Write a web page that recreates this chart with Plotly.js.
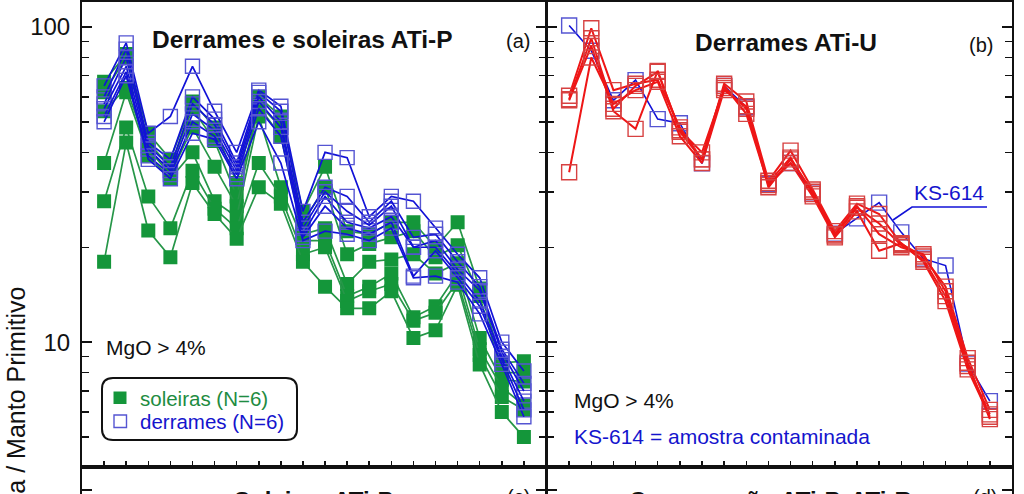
<!DOCTYPE html>
<html><head><meta charset="utf-8">
<script src="https://cdn.plot.ly/plotly-3.0.1.min.js"></script>
<style>html,body{margin:0;padding:0;background:#fff;}#chart{width:1024px;height:494px;}</style>
</head><body><div id="chart"></div>
<script>
// element positions along the spider diagram (labels are below the visible area)
const positions = [1,2,3,4,5,6,7,8,9,10,11,12,13,14,15,16,17,18,19,20];

// Panel (a) – ATi-P sills (soleiras), normalized to primitive mantle
const soleiras1 = [67,82,46,38,58,48,32,60,52,26,36,22.5,22,24,24,20,24,14.8,8.6,8.7];
const soleiras2 = [62,80,43,36,55,43.5,29,57,48,24,31,19,20.5,21.5,22.5,18.6,20.3,14,8,8];
const soleiras3 = [54,64,41,34,48,36,27,56,45,22,23,15.3,18,18.3,19,16.5,17.8,10.3,7.6,7.5];
const soleiras4 = [37,62,39,33,40,28,25,52,31,21,21,14,15,16.5,12,13,16.5,9.5,7.2,6.3];
const soleiras5 = [28,48,29,23,35,26.5,23,37,29,19,20,13.5,14.5,15.3,11.7,12.4,15.6,9.1,6.7,6.1];
const soleiras6 = [18,43,22.6,18.6,32,25.5,21.3,31,27.5,18,15,12.8,12.8,14.5,10.3,10.9,15.2,8.5,6.0,5.0];

// Panel (a) – ATi-P flows (derrames)
const derrames1 = [65,89,46,52,75,54,40,63,56,26,40,38.5,25,29,28,23,19,16,10,8.1];
const derrames2 = [60,85,43,38,60,51,37,62,54,24,31,29,24,28,21.5,22,18,15,9.5,7.4];
const derrames3 = [57,80,42,36,57,49,36,60,50,23,30,26,23.5,27,20,21,17,14.6,9.3,7];
const derrames4 = [55,75,41,35,53,47,35,58,48,22,29,24,23,25,20,20,16.5,13.5,9,6.5];
const derrames5 = [52,72,39,34,50,45,34,55,45,21.5,27,23,22,24,16.2,19.5,16,13,8.8,6.1];
const derrames6 = [50,70,38,33,46,44,33,50,37,21,22.5,22,21,23,16,16.2,15.5,12.3,8.5,5.8];

// Panel (b) – ATi-U flows
const atiU1 = [60.5,99,63,66,68,48,38,66,58,32.5,40.5,30.5,22.5,27.5,25.5,20.5,18.7,15,8.9,6.1];
const atiU2 = [59,92,55,65,72,47,40,64,55,32,38.5,29.5,21.8,26.7,23.8,20.3,18.3,14,8.4,5.9];
const atiU3 = [58.5,87,54,47.5,72.5,46.5,38,65,53,31.5,37,29,21.5,26,19.5,20.6,18,13.5,8.2,5.8];
const atiU4 = [34.6,80,57,63,67,45,37,63,56,31,38,30,22,27,22,20,19,14.5,8.6,5.7];
const ks614 = [101,84,58.5,67.8,51,49.5,36.9,65,55.6,31.8,37,29.6,22.1,24.7,27.7,22.3,18.4,17.5,8.55,6.5];

const soleiras = [soleiras1,soleiras2,soleiras3,soleiras4,soleiras5,soleiras6];
const derrames = [derrames1,derrames2,derrames3,derrames4,derrames5,derrames6];
const atiU = [atiU1,atiU2,atiU3,atiU4];

const yMajor = [10,100];
const yMajorText = ['10','100'];
const yMinor = [5,6,7,8,9,20,30,40,50,60,70,80,90];

const GREEN_LINE = 'rgb(38,150,72)', GREEN_FILL = 'rgb(20,150,58)';
const BLUE_LINE = 'rgb(18,18,215)', BLUE_MARK = 'rgb(85,85,210)';
const RED_LINE = 'rgb(238,22,22)', RED_MARK = 'rgb(215,65,65)';
const FONT = 'Liberation Sans, Arial, Helvetica, sans-serif';

const traces = [];
soleiras.forEach(s => traces.push({x: positions, y: s, xaxis:'x', yaxis:'y', mode:'lines+markers',
  line:{color:GREEN_LINE, width:1.7}, marker:{symbol:'square', size:14, color:GREEN_FILL}, showlegend:false, hoverinfo:'y'}));
derrames.forEach(s => traces.push({x: positions, y: s, xaxis:'x', yaxis:'y', mode:'lines+markers',
  line:{color:BLUE_LINE, width:1.7}, marker:{symbol:'square-open', size:14, color:BLUE_MARK, line:{width:1.4}}, showlegend:false, hoverinfo:'y'}));
traces.push({x: positions, y: ks614, xaxis:'x2', yaxis:'y2', mode:'lines+markers',
  line:{color:BLUE_LINE, width:1.6}, marker:{symbol:'square-open', size:15, color:BLUE_MARK, line:{width:1.4}}, showlegend:false});
atiU.forEach(s => traces.push({x: positions, y: s, xaxis:'x2', yaxis:'y2', mode:'lines+markers',
  line:{color:RED_LINE, width:2}, marker:{symbol:'square-open', size:15, color:RED_MARK, line:{width:1.4}}, showlegend:false}));
traces.push({x:[], y:[], xaxis:'x3', yaxis:'y3', showlegend:false});
traces.push({x:[], y:[], xaxis:'x4', yaxis:'y4', showlegend:false});

const W = 1024, H = 494;
const px = v => v / W;
const py = v => 1 - v / H;

function yAx(showLabels, anchor) {
  return {
    type:'log', range:[0.605, 2.079], domain:[py(466.7), py(2)], anchor: anchor,
    tickmode:'array', tickvals: yMajor, ticktext: yMajorText, showticklabels: showLabels,
    ticks:'inside', ticklen:10, tickwidth:1.5, tickcolor:'#111', ticklabelstandoff: 5,
    tickfont:{size:24, color:'#111', family:FONT},
    minor:{tickmode:'array', tickvals:yMinor, ticks:'inside', ticklen:7, tickwidth:1.5, tickcolor:'#111', showgrid:false},
    showline:true, linewidth:2, linecolor:'#111', mirror:'ticks', showgrid:false, zeroline:false, fixedrange:true
  };
}
function xAx(d0, d1, anchor) {
  return {
    domain:[px(d0), px(d1)], range:[0,21], anchor: anchor, tickmode:'array', tickvals: positions,
    showticklabels:false, ticks:'inside', ticklen:6, tickwidth:1.5, tickcolor:'#111',
    showline:true, linewidth:2, linecolor:'#111', mirror:true, showgrid:false, zeroline:false, fixedrange:true
  };
}
function yBottom(showLabels, anchor) {
  return {
    type:'log', range:[1.987, 2.074], domain:[0, py(466.7)], anchor: anchor,
    tickmode:'array', tickvals:[100], ticktext:['100'], showticklabels: showLabels,
    ticks:'inside', ticklen:10, tickwidth:1.5, tickcolor:'#111', ticklabelstandoff: 5,
    tickfont:{size:24, color:'#111', family:FONT},
    showline:true, linewidth:2, linecolor:'#111', mirror:'ticks', showgrid:false, zeroline:false, fixedrange:true
  };
}
function xBottom(d0, d1, anchor) {
  return {
    domain:[px(d0), px(d1)], range:[0,21], anchor: anchor, side:'top', showticklabels:false, ticks:'',
    showline:true, linewidth:2, linecolor:'#111', mirror:false, showgrid:false, zeroline:false, fixedrange:true
  };
}

function rounded(x0, y0, x1, y1, r) {
  const X = v => px(v).toFixed(5), Y = v => py(v).toFixed(5);
  return `M${X(x0+r)},${Y(y0)} L${X(x1-r)},${Y(y0)} Q${X(x1)},${Y(y0)} ${X(x1)},${Y(y0+r)} ` +
         `L${X(x1)},${Y(y1-r)} Q${X(x1)},${Y(y1)} ${X(x1-r)},${Y(y1)} L${X(x0+r)},${Y(y1)} ` +
         `Q${X(x0)},${Y(y1)} ${X(x0)},${Y(y1-r)} L${X(x0)},${Y(y0+r)} Q${X(x0)},${Y(y0)} ${X(x0+r)},${Y(y0)} Z`;
}

const shapes = [
  {type:'path', xref:'paper', yref:'paper', path: rounded(102, 378, 297, 440, 11), line:{color:'#111', width:2}},
  {type:'rect', xref:'paper', yref:'paper', x0:px(113.5), x1:px(126.5), y0:py(404), y1:py(391.5), fillcolor:GREEN_FILL, line:{width:0}},
  {type:'rect', xref:'paper', yref:'paper', x0:px(114), x1:px(126.5), y0:py(427.5), y1:py(415), fillcolor:'rgba(0,0,0,0)', line:{color:BLUE_MARK, width:1.4}},
  {type:'path', xref:'paper', yref:'paper', path:`M${px(893)},${py(220)} L${px(912)},${py(207)} L${px(987)},${py(207)}`, line:{color:BLUE_LINE, width:1.6}}
];

function ann(text, x, y, opts) {
  return Object.assign({text, xref:'paper', yref:'paper', x:px(x), y:py(y), showarrow:false,
    xanchor:'left', yanchor:'middle', font:{family:FONT, size:21, color:'#111'}}, opts || {});
}

const annotations = [
  ann('<b>Derrames e soleiras ATi-P</b>', 302, 40, {xanchor:'center', font:{family:FONT, size:24.5, color:'#111'}}),
  ann('(a)', 518, 41, {xanchor:'center', font:{family:FONT, size:20, color:'#111'}}),
  ann('<b>Derrames ATi-U</b>', 786, 42, {xanchor:'center', font:{family:FONT, size:24.5, color:'#111'}}),
  ann('(b)', 981, 45, {xanchor:'center', font:{family:FONT, size:20, color:'#111'}}),
  ann('MgO &gt; 4%', 104, 347),
  ann('MgO &gt; 4%', 572, 400),
  ann('KS-614 = amostra contaminada', 572, 436, {font:{family:FONT, size:21, color:'rgb(20,20,205)'}}),
  ann('KS-614', 912, 193, {font:{family:FONT, size:21, color:'rgb(20,20,205)'}}),
  ann('soleiras (N=6)', 138, 398, {font:{family:FONT, size:20.5, color:'rgb(30,140,65)'}}),
  ann('derrames (N=6)', 138, 421, {font:{family:FONT, size:20.5, color:'rgb(20,20,205)'}}),
  ann('Rocha / Manto Primitivo', 16, 420, {xanchor:'center', textangle:-90, font:{family:FONT, size:25, color:'#111'}}),
  ann('<b>Soleiras ATi-P</b>', 232, 500, {font:{family:FONT, size:24, color:'#111'}}),
  ann('(c)', 505, 497, {font:{family:FONT, size:20, color:'#111'}}),
  ann('<b>Comparação ATi-P, ATi-R</b>', 627, 500, {font:{family:FONT, size:24, color:'#111'}}),
  ann('(d)', 971, 497, {font:{family:FONT, size:20, color:'#111'}})
];

const layout = {
  width: W, height: H, margin:{l:0, r:0, t:0, b:0}, paper_bgcolor:'#fff', plot_bgcolor:'#fff',
  showlegend:false, font:{family:FONT, color:'#111'},
  xaxis: xAx(82, 546, 'y'), yaxis: yAx(true, 'x'),
  xaxis2: xAx(547, 1012, 'y2'), yaxis2: yAx(false, 'x2'),
  xaxis3: xBottom(82, 546, 'y3'), yaxis3: yBottom(true, 'x3'),
  xaxis4: xBottom(547, 1012, 'y4'), yaxis4: yBottom(false, 'x4'),
  shapes, annotations
};

Plotly.newPlot('chart', traces, layout, {staticPlot:true, displayModeBar:false});
</script></body></html>
